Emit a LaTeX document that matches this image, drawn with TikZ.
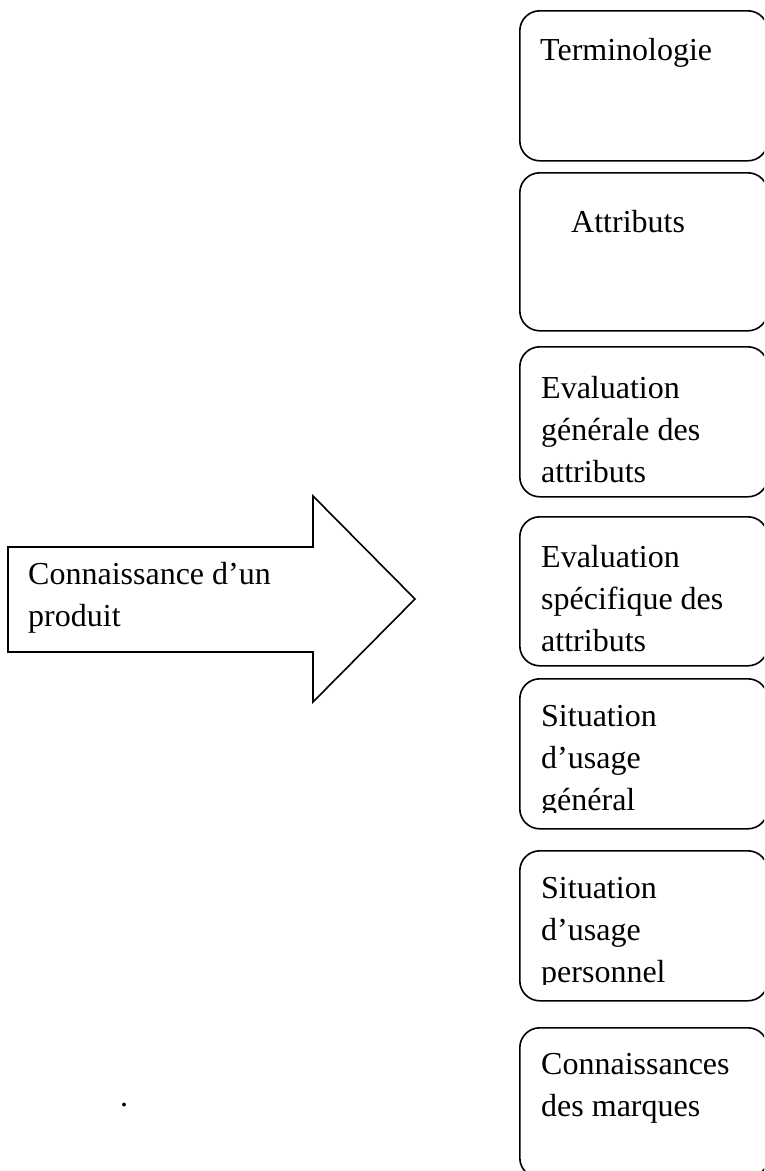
\documentclass[tikz,border=0pt]{standalone}
\usepackage{fontspec}
\setmainfont{Liberation Serif}
\tikzset{
  panel/.style={draw, line width=1.6pt, rounded corners=20pt, minimum width=248pt, inner sep=0pt, anchor=north west},
  lbl/.style={anchor=base west, inner sep=0pt, font=\fontsize{32}{42}\selectfont},
  bigarrow/.style={draw, line width=1.6pt, line join=miter},
}
\newcommand{\textlines}[1]{\parbox[t]{320pt}{\raggedright #1}}
\begin{document}
\begin{tikzpicture}[x=1pt, y=-1pt]
  \useasboundingbox (0,0) rectangle (764,1171);
  \clip (0,0) rectangle (764,1171);

  % block arrow on the left
  \draw[bigarrow] (8,547) -- (313,547) -- (313,496) -- (415,599) -- (313,702) -- (313,652) -- (8,652) -- cycle;
  \node[lbl] (arrowtext) at (28,584) {\textlines{Connaissance d'un\\produit}};

  % column of rounded boxes
  \node[panel, minimum height=150pt] (b1) at (519,10) {};
  \node[panel, minimum height=158pt] (b2) at (519,172) {};
  \node[panel, minimum height=150pt] (b3) at (519,346) {};
  \node[panel, minimum height=149pt] (b4) at (519,516) {};
  \node[panel, minimum height=150pt] (b5) at (519,678) {};
  \node[panel, minimum height=150pt] (b6) at (519,850) {};
  \node[panel, minimum height=150pt] (b7) at (519,1027) {};

  \node[lbl] (t1) at (540,60) {Terminologie};
  \node[lbl] (t2) at (571,232) {Attributs};
  \node[lbl] (t3) at (541,398) {\textlines{Evaluation\\générale des\\attributs}};
  \node[lbl] (t4) at (541,567) {\textlines{Evaluation\\spécifique des\\attributs}};
  % the last line of these two boxes is cut off at the text area's lower edge
  \begin{scope}
    \clip (519,678) rectangle (764,812);
    \node[lbl] (t5) at (541,726) {\textlines{Situation\\d'usage\\général}};
  \end{scope}
  \begin{scope}
    \clip (519,850) rectangle (764,984);
    \node[lbl] (t6) at (541,898) {\textlines{Situation\\d'usage\\personnel}};
  \end{scope}
  \node[lbl] (t7) at (541,1074) {\textlines{Connaissances\\des marques}};

  \node[lbl] (dot) at (120,1106) {.};
\end{tikzpicture}
\end{document}
